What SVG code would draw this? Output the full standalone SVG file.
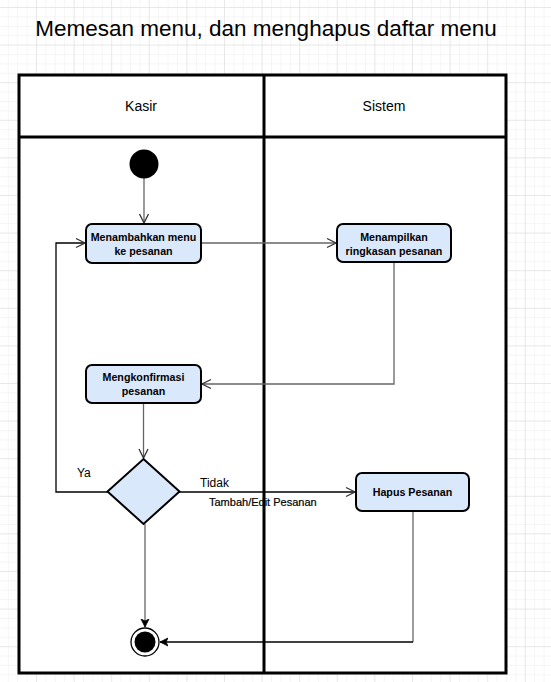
<svg xmlns="http://www.w3.org/2000/svg" width="551" height="682" viewBox="0 0 551 682">
<style>
text{font-family:"Liberation Sans",Arial,sans-serif;fill:#000}
.title{font-size:22.5px}
.lane{font-size:14px}
.act{font-size:10.7px;font-weight:bold}
.lbl{font-size:12px}
.lbl2{font-size:11px;stroke:#000;stroke-width:0.2}
.box{fill:#dae8fc;stroke:#000;stroke-width:2}
.pool{fill:none;stroke:#000;stroke-width:3}
.c{fill:none;stroke:#666;stroke-width:1.3}
.k{fill:none;stroke:#000;stroke-width:1.3}
</style>
<defs>
<pattern id="minor" width="9.4" height="9.4" patternUnits="userSpaceOnUse" x="7.8" y="7">
<path d="M0 0H9.4M0 0V9.4" stroke="#ececec" stroke-width="1" fill="none"/>
</pattern>
<pattern id="major" width="37.6" height="37.6" patternUnits="userSpaceOnUse" x="36" y="7">
<path d="M0 0H37.6M0 0V37.6" stroke="#dcdcdc" stroke-width="1" fill="none"/>
</pattern>
<marker id="open" markerWidth="12" markerHeight="12" refX="10" refY="6" orient="auto" markerUnits="userSpaceOnUse">
<path d="M1 1.5L10 6L1 10.5" fill="none" stroke="#333" stroke-width="1.3"/>
</marker>
<marker id="fill" markerWidth="10" markerHeight="10" refX="8" refY="4.5" orient="auto" markerUnits="userSpaceOnUse">
<path d="M0 0.5L8 4.5L0 8.5L2 4.5Z" fill="#000" stroke="#000" stroke-width="0.8"/>
</marker>
</defs>
<rect width="551" height="682" fill="#fff"/>
<rect width="551" height="682" fill="url(#minor)"/>
<rect width="551" height="682" fill="url(#major)"/>
<text class="title" x="266" y="36" text-anchor="middle">Memesan menu, dan menghapus daftar menu</text>
<g id="pool">
<rect x="19" y="75" width="487" height="598" fill="#fff"/>
<rect class="pool" x="19" y="75" width="487" height="598"/>
<line class="pool" x1="19" y1="137" x2="506" y2="137"/>
<line class="pool" x1="264" y1="75" x2="264" y2="673"/>
</g>
<g id="lane-kasir"><text class="lane" x="141" y="111" text-anchor="middle">Kasir</text></g>
<g id="lane-sistem"><text class="lane" x="384" y="111" text-anchor="middle">Sistem</text></g>
<g id="connectors">
<path class="c" d="M144 178V223" marker-end="url(#open)"/>
<path class="c" d="M201 243H336" marker-end="url(#open)"/>
<path class="c" d="M394 262V384H202" marker-end="url(#open)"/>
<path class="c" d="M143.5 403V458" marker-end="url(#open)"/>
<path class="k" d="M108 492H56V243H85" marker-end="url(#open)"/>
<path class="k" d="M179 492H355" marker-end="url(#open)"/>
<path class="c" d="M413 511V642" />
<path class="k" d="M413 642H160" marker-end="url(#fill)"/>
<path class="c" d="M145 524V627" marker-end="url(#fill)"/>
<text class="lbl" x="77" y="477">Ya</text>
<text class="lbl" x="200" y="487">Tidak</text>
<text class="lbl2" x="209" y="506">Tambah/Edit Pesanan</text>
</g>
<g id="start"><circle cx="144" cy="164" r="14.5" fill="#000"/></g>
<g id="menambahkan">
<rect class="box" x="86" y="224" width="115" height="39" rx="6"/>
<text class="act" x="143.5" y="241" text-anchor="middle">Menambahkan menu</text>
<text class="act" x="143.5" y="255" text-anchor="middle">ke pesanan</text>
</g>
<g id="menampilkan">
<rect class="box" x="337" y="224" width="114" height="38" rx="6"/>
<text class="act" x="394" y="241" text-anchor="middle">Menampilkan</text>
<text class="act" x="394" y="255" text-anchor="middle">ringkasan pesanan</text>
</g>
<g id="mengkonfirmasi">
<rect class="box" x="86" y="365" width="115" height="38" rx="6"/>
<text class="act" x="143.5" y="381" text-anchor="middle">Mengkonfirmasi</text>
<text class="act" x="143.5" y="395" text-anchor="middle">pesanan</text>
</g>
<g id="decision">
<path class="box" d="M143.5 459L179.5 491.5L143.5 524L107.5 491.5Z"/>
</g>
<g id="hapus">
<rect class="box" x="356" y="473" width="113" height="38" rx="6"/>
<text class="act" x="412.5" y="496" text-anchor="middle">Hapus Pesanan</text>
</g>
<g id="end">
<circle cx="145" cy="642" r="14" fill="#fff" stroke="#000" stroke-width="1.3"/>
<circle cx="145" cy="642" r="10.5" fill="#000"/>
</g>
</svg>
